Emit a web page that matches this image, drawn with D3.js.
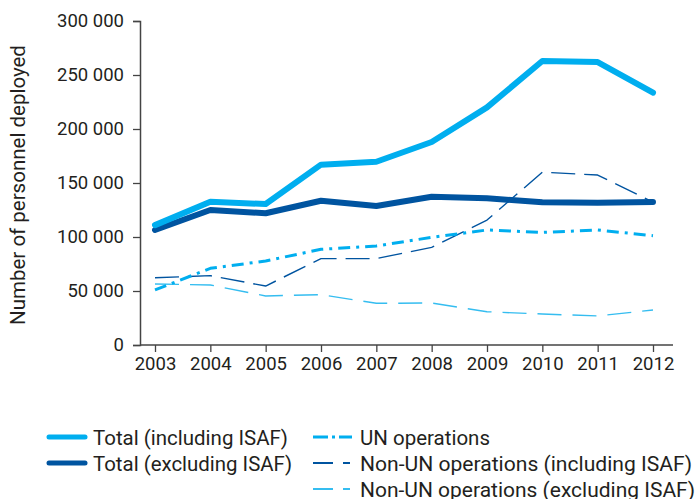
<!DOCTYPE html>
<html>
<head>
<meta charset="utf-8">
<script src="https://cdn.jsdelivr.net/npm/d3@7"></script>
<style>
  body { margin: 0; background: #fff; }
  text { font-family: Roboto, "Liberation Sans", sans-serif; fill: #231f20; }
</style>
</head>
<body>
<div id="chart"></div>
<script>
// data
var years = [2003, 2004, 2005, 2006, 2007, 2008, 2009, 2010, 2011, 2012];
var totalIncl = [111000, 132700, 130500, 167000, 169700, 188000, 220000, 263000, 262000, 233600];
var totalExcl = [106500, 125000, 122000, 133600, 128700, 137300, 135800, 132200, 131800, 132400];
var unOps = [51000, 71000, 77800, 88600, 91700, 99700, 106500, 104300, 106500, 101200];
var nonUnIncl = [62300, 64200, 54600, 80000, 80000, 90400, 115700, 160000, 157400, 132400];
var nonUnExcl = [56500, 55600, 45400, 46600, 38600, 38900, 30800, 28700, 26900, 32400];
var yTicks = [0, 50000, 100000, 150000, 200000, 250000, 300000];

var width = 697, height = 499;
var light = "#00aeef", dark = "#0054a0";

var series = [
  {name: "Total (including ISAF)", values: totalIncl, color: light, w: 6, dash: null},
  {name: "Total (excluding ISAF)", values: totalExcl, color: dark, w: 6, dash: null},
  {name: "UN operations", values: unOps, color: light, w: 3, dash: "12,6,3,6"},
  {name: "Non-UN operations (including ISAF)", values: nonUnIncl, color: dark, w: 1.4, dash: "24,9"},
  {name: "Non-UN operations (excluding ISAF)", values: nonUnExcl, color: "#35bdf0", w: 1.4, dash: "24,11"}
];

var svg = d3.select("#chart").append("svg")
  .attr("width", width)
  .attr("height", height);

var x = d3.scaleLinear().domain([2003, 2012]).range([155, 653]);
var y = d3.scaleLinear().domain([0, 300000]).range([345, 21]);

var fmt = function(d) { return d3.format(",")(d).replace(/,/g, " "); };

// y軸
var yAxis = svg.append("g")
  .attr("transform", "translate(140,0)")
  .call(d3.axisLeft(y).tickValues(yTicks).tickSize(7).tickPadding(9).tickFormat(fmt));

// x軸
var xAxis = svg.append("g")
  .attr("transform", "translate(0,345)")
  .call(d3.axisBottom(x).tickValues(years).tickSize(7).tickPadding(5).tickFormat(d3.format("d")));

xAxis.select(".domain").attr("d", "M140,0H673");

[yAxis, xAxis].forEach(function(a) {
  a.select(".domain").attr("stroke", "#444").attr("stroke-width", 1.5);
  a.selectAll(".tick line").attr("stroke", "#444").attr("stroke-width", 1.3);
  a.selectAll(".tick text").attr("font-size", "18.5px").attr("fill", "#231f20")
    .attr("font-family", "Roboto, sans-serif");
});

// 軸タイトル
svg.append("text")
  .attr("transform", "translate(25,185) rotate(-90)")
  .attr("text-anchor", "middle")
  .attr("font-size", "20.5px")
  .attr("font-family", "'Liberation Sans', Arial, sans-serif")
  .text("Number of personnel deployed");

var line = d3.line()
  .x(function(d, i) { return x(years[i]); })
  .y(function(d) { return y(d); });

// 線 (細い線から先に描く)
series.slice().reverse().forEach(function(s) {
  svg.append("path")
    .datum(s.values)
    .attr("d", line)
    .attr("fill", "none")
    .attr("stroke", s.color)
    .attr("stroke-width", s.w)
    .attr("stroke-linejoin", "round")
    .attr("stroke-linecap", s.dash ? "butt" : "round")
    .attr("stroke-dasharray", s.dash);
});

// 凡例 (tw = 文字列の幅)
var legendPos = [
  {x: 47, y: 437, tx: 46, tw: 195, sample: null},
  {x: 47, y: 463, tx: 46, tw: 199, sample: null},
  {x: 313, y: 437, tx: 47, tw: 130, sample: "15,4,3,4,15"},
  {x: 313, y: 463, tx: 47, tw: 332, sample: "20,10,7,20"},
  {x: 313, y: 489, tx: 47, tw: 335, sample: "20,10,7,20"}
];

var legend = svg.append("g").attr("class", "legend");

series.forEach(function(s, i) {
  var p = legendPos[i];
  var g = legend.append("g").attr("transform", "translate(" + p.x + "," + p.y + ")");
  g.append("line")
    .attr("x1", s.dash ? 0 : 2).attr("x2", s.dash ? 39 : 38)
    .attr("stroke", s.color)
    .attr("stroke-width", s.dash ? Math.max(s.w, 1.8) : 5)
    .attr("stroke-linecap", s.dash ? "butt" : "round")
    .attr("stroke-dasharray", p.sample);
  g.append("text")
    .attr("x", p.tx)
    .attr("y", 7.5)
    .attr("font-size", "21px")
    .attr("textLength", p.tw)
    .attr("lengthAdjust", "spacingAndGlyphs")
    .text(s.name);
});
</script>
</body>
</html>
